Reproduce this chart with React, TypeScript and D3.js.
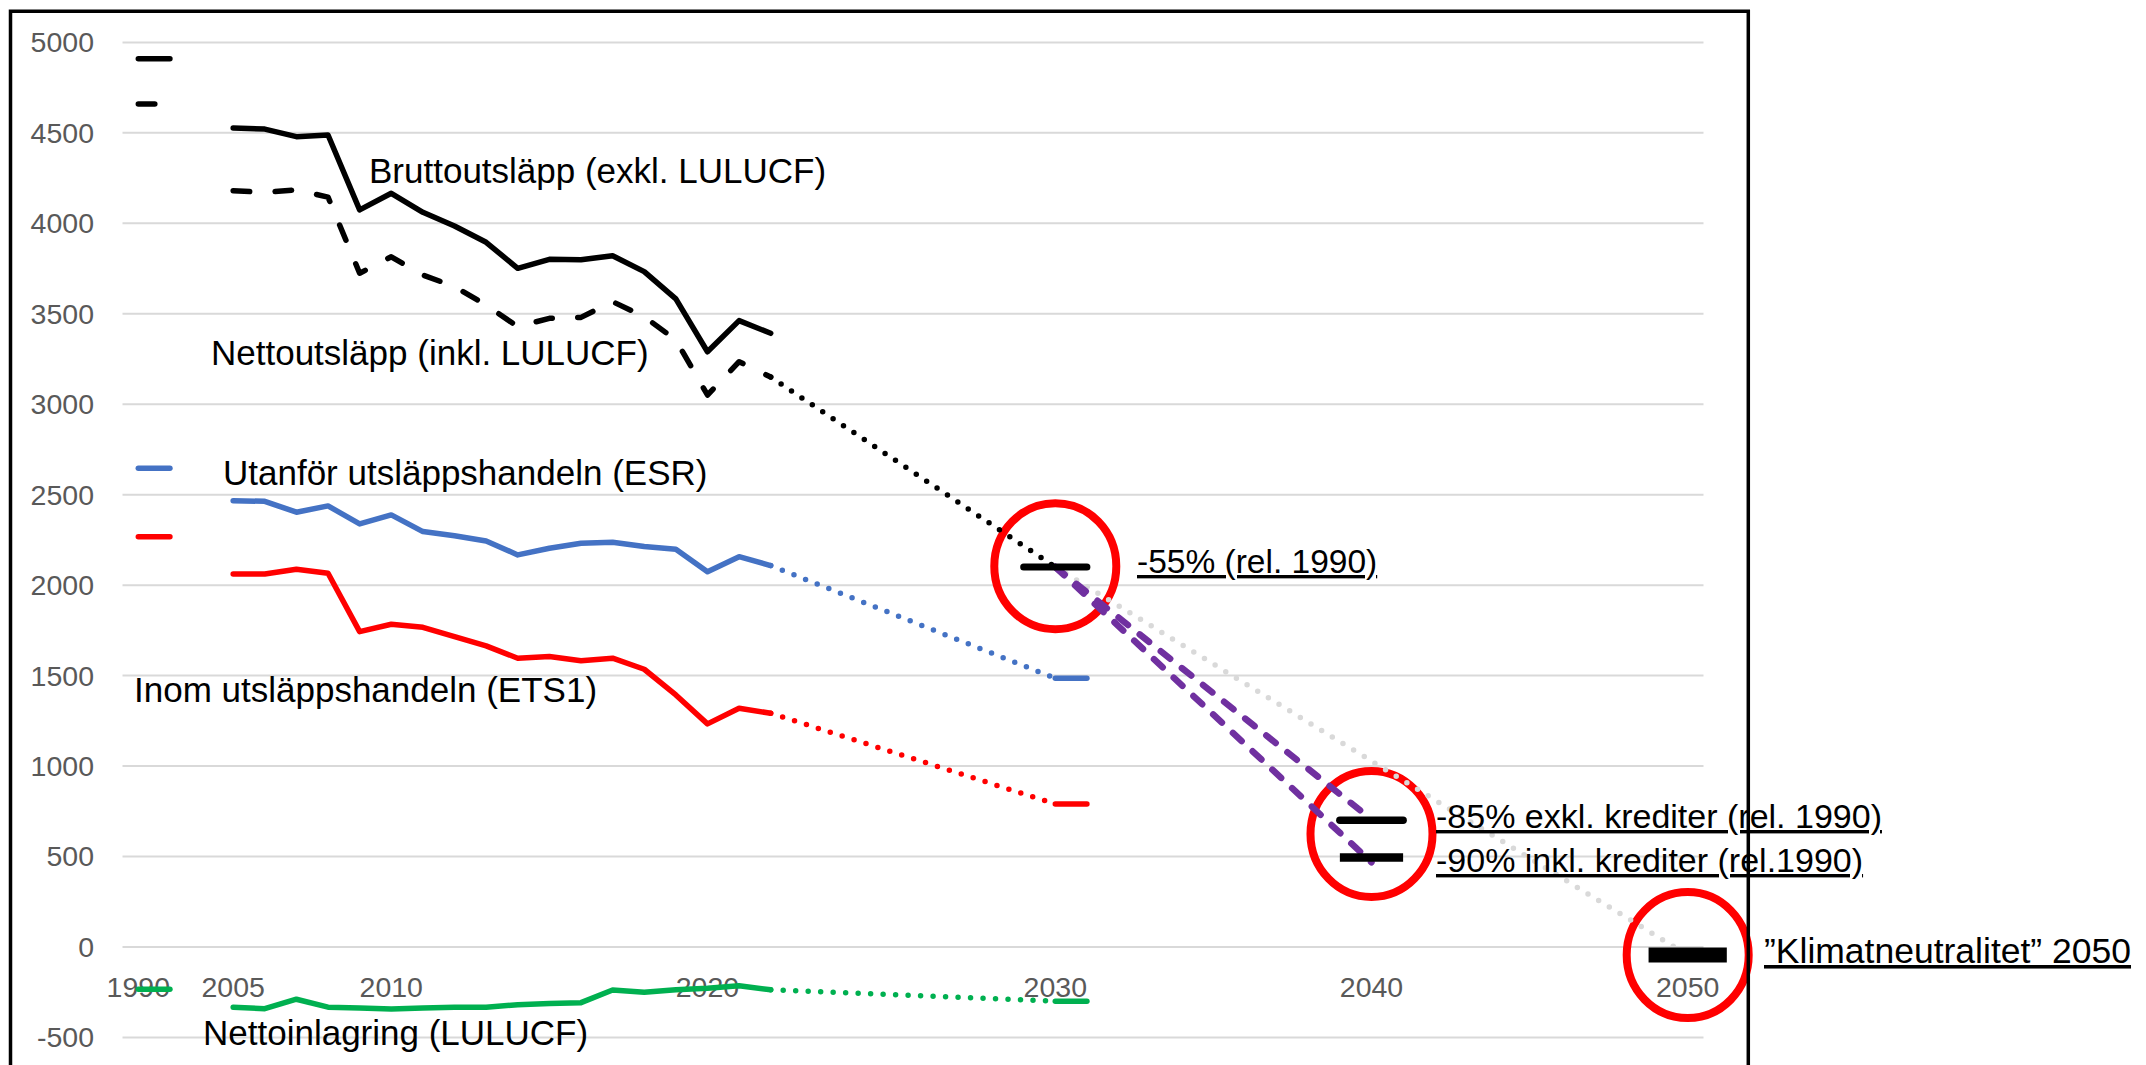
import * as d3 from "d3";

// Category slots of the original category axis (blank slots carry no label)
const axisLabels = [
  "1990", "", "", "2005", "", "", "", "", "2010",
  "", "", "", "", "", "", "", "", "", "2020",
  "", "", "", "", "", "", "", "", "", "", "2030",
  "", "", "", "", "", "", "", "", "", "2040",
  "", "", "", "", "", "", "", "", "", "2050",
];
const yTicks = [-500, 0, 500, 1000, 1500, 2000, 2500, 3000, 3500, 4000, 4500, 5000];

const histYears = [2005, 2006, 2007, 2008, 2009, 2010, 2011, 2012, 2013, 2014, 2015, 2016, 2017, 2018, 2019, 2020, 2021, 2022];
const grossEmissions = [4527, 4521, 4479, 4488, 4074, 4166, 4061, 3985, 3895, 3751, 3801, 3799, 3821, 3733, 3582, 3290, 3462, 3392];
const netEmissions = [4180, 4172, 4184, 4145, 3724, 3815, 3714, 3650, 3548, 3429, 3475, 3480, 3567, 3484, 3355, 3051, 3235, 3150];
const esrEmissions = [2467, 2463, 2403, 2438, 2338, 2388, 2296, 2273, 2244, 2167, 2204, 2231, 2237, 2213, 2198, 2074, 2157, 2108];
const etsEmissions = [2062, 2062, 2088, 2066, 1743, 1784, 1767, 1715, 1664, 1596, 1605, 1582, 1596, 1535, 1393, 1233, 1319, 1292];
const lulucfValues = [-333, -341, -289, -333, -337, -343, -337, -333, -333, -319, -313, -308, -238, -250, -237, -228, -215, -237];

// 1990 base year values
const base1990 = { gross: 4910, net: 4660, esr: 2646, ets: 2268, lulucf: -234 };
// 2030 end points of the projections
const target2030 = { net: 2100, esr: 1485, ets: 790, lulucf: -300 };
const target2040 = [700, 495];
const path2040 = [705, 468];
const target2050 = -45;
const circled = [
  { label: "2030", value: 2105 },
  { label: "2040", value: 625 },
  { label: "2050", value: -45 },
];

const W = 2146;
const H = 1065;
const FONT = "'Liberation Sans', Arial, sans-serif";

const x = d3.scaleLinear().domain([-0.5, axisLabels.length - 0.5]).range([122.5, 1703.5]);
const y = d3.scaleLinear().domain([-500, 5000]).range([1037.4, 42.4]);

const slotOf = (label: string) => axisLabels.indexOf(label);
const histStart = slotOf(String(histYears[0]));
const slot2022 = histStart + histYears.length - 1;
const s2030 = slotOf("2030");
const s2040 = slotOf("2040");
const s2050 = slotOf("2050");

const line = d3
  .line<[number, number]>()
  .x((d) => x(d[0]))
  .y((d) => y(d[1]));

type Style = { color: string; width: number; dash?: string; cap?: "round" | "butt" | "square" };

const DOT = "0 12.5";
const styles: Record<string, Style> = {
  gross: { color: "#000000", width: 5.5 },
  net: { color: "#000000", width: 5.5, dash: "16.5 25.5" },
  esr: { color: "#4472C4", width: 5.5 },
  ets: { color: "#FF0000", width: 5.5 },
  lulucf: { color: "#00B050", width: 5.5 },
};

const histSeries: { key: keyof typeof base1990; values: number[] }[] = [
  { key: "lulucf", values: lulucfValues },
  { key: "ets", values: etsEmissions },
  { key: "esr", values: esrEmissions },
  { key: "net", values: netEmissions },
  { key: "gross", values: grossEmissions },
];

function Path({ pts, st }: { pts: [number, number][]; st: Style }) {
  return (
    <path
      d={line(pts) ?? ""}
      fill="none"
      stroke={st.color}
      strokeWidth={st.width}
      strokeDasharray={st.dash}
      strokeLinecap={st.cap ?? "round"}
      strokeLinejoin="round"
    />
  );
}

function Label({ x0, y0, text, size = 35, underline = false }: { x0: number; y0: number; text: string; size?: number; underline?: boolean }) {
  return (
    <text
      x={x0}
      y={y0}
      fontSize={size}
      fontFamily={FONT}
      fill="#000"
      style={underline ? { textDecoration: "underline" } : undefined}
    >
      {text}
    </text>
  );
}

export default function App() {
  const projections: { pts: [number, number][]; st: Style }[] = [
    { pts: [[s2030, target2030.net], [s2050, target2050]], st: { color: "#D9D9D9", width: 5.5, dash: DOT } },
    { pts: [[s2030, target2030.net], [s2040, path2040[0]]], st: { color: "#7030A0", width: 6.5, dash: "12 15" } },
    { pts: [[s2030, target2030.net], [s2040, path2040[1]]], st: { color: "#7030A0", width: 6.5, dash: "12 15" } },
    { pts: [[slot2022, netEmissions[netEmissions.length - 1]], [s2030, target2030.net]], st: { color: "#000000", width: 5.5, dash: DOT } },
    { pts: [[slot2022, esrEmissions[esrEmissions.length - 1]], [s2030, target2030.esr]], st: { color: "#4472C4", width: 5.5, dash: DOT } },
    { pts: [[slot2022, etsEmissions[etsEmissions.length - 1]], [s2030, target2030.ets]], st: { color: "#FF0000", width: 5.5, dash: DOT } },
    { pts: [[slot2022, lulucfValues[lulucfValues.length - 1]], [s2030, target2030.lulucf]], st: { color: "#00B050", width: 5.5, dash: DOT } },
  ];

  const bars: { pts: [number, number][]; st: Style }[] = [
    { pts: [[s2030 - 1, target2030.net], [s2030 + 1, target2030.net]], st: { color: "#000000", width: 7 } },
    { pts: [[s2030, target2030.esr], [s2030 + 1, target2030.esr]], st: { color: "#4472C4", width: 5.5 } },
    { pts: [[s2030, target2030.ets], [s2030 + 1, target2030.ets]], st: { color: "#FF0000", width: 5.5 } },
    { pts: [[s2030, target2030.lulucf], [s2030 + 1, target2030.lulucf]], st: { color: "#00B050", width: 5.5 } },
    { pts: [[s2040 - 1, target2040[0]], [s2040 + 1, target2040[0]]], st: { color: "#000000", width: 7.5 } },
    { pts: [[s2040 - 1, target2040[1]], [s2040 + 1, target2040[1]]], st: { color: "#000000", width: 8.5, cap: "butt" } },
    { pts: [[s2050 - 1, target2050], [s2050 + 1, target2050]], st: { color: "#000000", width: 15, cap: "square" } },
  ];

  return (
    <div style={{ position: "absolute", left: 0, top: 0 }}>
      <svg width={W} height={H} style={{ display: "block", background: "#fff" }}>
        <rect width={W} height={H} fill="#fff" />
        {/* gridlines */}
        {yTicks.map((t) => (
          <line key={t} x1={x.range()[0]} x2={x.range()[1]} y1={y(t)} y2={y(t)} stroke="#D9D9D9" strokeWidth={2} />
        ))}
        {/* y labels */}
        {yTicks.map((t) => (
          <text key={t} x={94} y={y(t) + 10} textAnchor="end" fontSize={28.5} fontFamily={FONT} fill="#595959">
            {t}
          </text>
        ))}
        {/* x labels */}
        {axisLabels.map((l, i) =>
          l ? (
            <text key={i} x={x(i)} y={997} textAnchor="middle" fontSize={28.5} fontFamily={FONT} fill="#595959">
              {l}
            </text>
          ) : null
        )}
        {/* red circles */}
        {circled.map((c) => (
          <ellipse key={c.label} cx={x(slotOf(c.label))} cy={y(c.value)} rx={61} ry={63} fill="none" stroke="#FF0000" strokeWidth={8} />
        ))}
        {projections.map((p, i) => (
          <Path key={"p" + i} pts={p.pts} st={p.st} />
        ))}
        {histSeries.map((s) => (
          <g key={s.key}>
            <Path pts={[[0, base1990[s.key]], [1, base1990[s.key]]]} st={styles[s.key]} />
            <Path pts={s.values.map((v, i) => [histStart + i, v] as [number, number])} st={styles[s.key]} />
          </g>
        ))}
        {bars.map((b, i) => (
          <Path key={"b" + i} pts={b.pts} st={b.st} />
        ))}
        {/* annotations */}
        <Label x0={369} y0={183} text="Bruttoutsläpp (exkl. LULUCF)" />
        <Label x0={211} y0={365} text="Nettoutsläpp (inkl. LULUCF)" />
        <Label x0={223} y0={485} text="Utanför utsläppshandeln (ESR)" />
        <Label x0={134} y0={702} text="Inom utsläppshandeln (ETS1)" />
        <Label x0={203} y0={1045} text="Nettoinlagring (LULUCF)" />
        <Label x0={1137} y0={573} text="-55% (rel. 1990)" size={33.5} underline />
        <Label x0={1436} y0={828} text="-85% exkl. krediter (rel. 1990)" size={34} underline />
        <Label x0={1436} y0={872} text="-90% inkl. krediter (rel.1990)" size={34} underline />
        <Label x0={1764} y0={963} text="”Klimatneutralitet” 2050" size={35.5} underline />
        {/* chart frame */}
        <path d={`M10.5,${H + 10} V11.3 H1748.3 V${H + 10}`} fill="none" stroke="#000" strokeWidth={3.5} />
      </svg>
    </div>
  );
}
